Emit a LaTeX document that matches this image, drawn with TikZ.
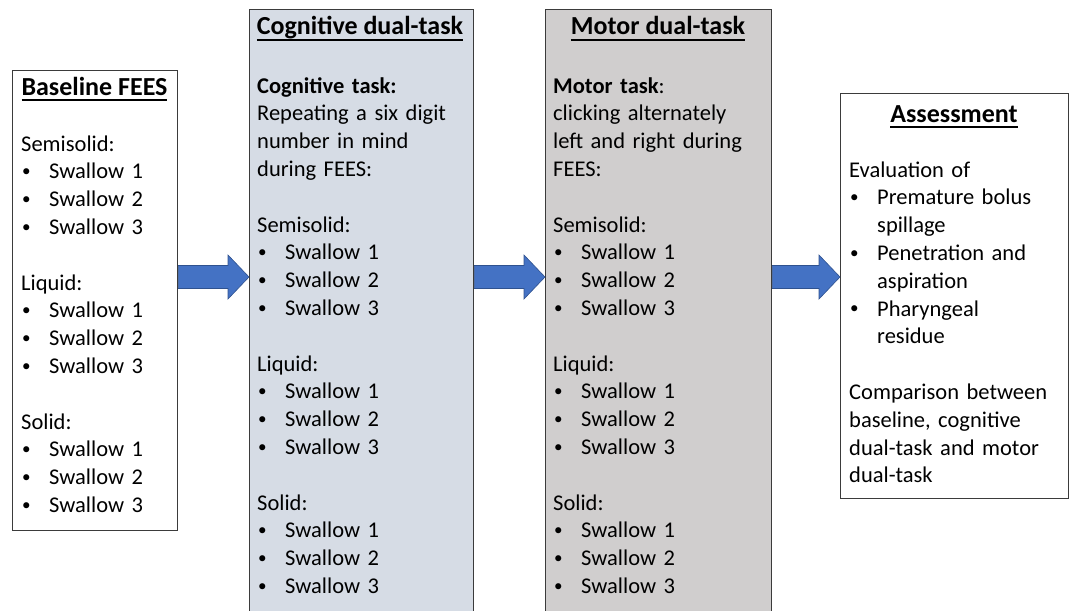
\documentclass[tikz,border=0pt]{standalone}
\usepackage{fontspec}
\setmainfont{Carlito}
\usetikzlibrary{calc}
\definecolor{edge}{HTML}{3B3B3B}
\definecolor{cogfill}{HTML}{D6DCE5}
\definecolor{motfill}{HTML}{D0CECE}
\definecolor{arrowblue}{HTML}{4472C4}
\definecolor{arrowedge}{HTML}{2F528F}
\newcommand\bodyfont{\fontsize{22.5}{27.8}\selectfont}
\newcommand\headfont{\fontsize{26}{30}\selectfont\bfseries}
% underlined heading with a heavy rule
\newcommand\ttl[1]{\setbox0\hbox{#1}\rlap{\rule[-6.2pt]{\wd0}{2.3pt}}\box0}
% bullet entries
\newcommand\smallbullet{\raisebox{0.1em}{\scalebox{0.76}{\textbullet}}}
\newcommand\bul[1]{\makebox[28pt][l]{\hspace{1pt}\smallbullet}#1}
\newcommand\sw[1]{\bul{Swallow #1}}
\newcommand\gap{\\[27.8pt]}
\begin{document}
\begin{tikzpicture}[x=1pt, y=-1pt, font=\bodyfont,
  box/.style={draw=edge, line width=1.4pt, inner sep=0pt, anchor=north west},
  title/.style={anchor=base, inner sep=0pt, font=\headfont},
  body/.style={anchor=north west, inner sep=0pt, text width=215pt, align=left},
  blockarrow/.style={fill=arrowblue, draw=arrowedge, line width=0.6pt,
    to path={let \p1=(\tikztostart), \p2=(\tikztotarget) in
      (\x1,\y1+11.5pt) -- (\x2-21pt,\y1+11.5pt) -- (\x2-21pt,\y1+22pt) --
      (\x2,\y1) -- (\x2-21pt,\y1-22pt) -- (\x2-21pt,\y1-11.5pt) --
      (\x1,\y1-11.5pt) -- cycle}}]
\useasboundingbox (0,0) rectangle (1070,610);

% frames
\node[box, minimum width=165pt, minimum height=460pt] (b1) at (12,70) {};
\node[box, fill=cogfill, minimum width=224pt, minimum height=606pt] (b2) at (249,9) {};
\node[box, fill=motfill, minimum width=226pt, minimum height=606pt] (b3) at (545,9) {};
\node[box, minimum width=228pt, minimum height=405pt] (b4) at (840,93) {};

% headings
\node[title] (t1) at (94.5,95) {\ttl{Baseline FEES}};
\node[title] (t2) at (360,35) {\ttl{Cognitive dual-task}};
\node[title] (t3) at (658,35) {\ttl{Motor dual-task}};
\node[title] (t4) at (954,122) {\ttl{Assessment}};

% contents
\node[body] (c1) at (21,131.5) {\strut Semisolid:\\ \sw1\\ \sw2\\ \sw3\gap
  Liquid:\\ \sw1\\ \sw2\\ \sw3\gap
  Solid:\\ \sw1\\ \sw2\\ \sw3};
\node[body] (c2) at (257,73.5) {\strut\textbf{Cognitive task:}\\
  Repeating a six digit\\ number in mind\\ during FEES:\gap
  Semisolid:\\ \sw1\\ \sw2\\ \sw3\gap
  Liquid:\\ \sw1\\ \sw2\\ \sw3\gap
  Solid:\\ \sw1\\ \sw2\\ \sw3};
\node[body] (c3) at (553,73.5) {\strut\textbf{Motor task}:\\
  clicking alternately\\ left and right during\\ FEES:\gap
  Semisolid:\\ \sw1\\ \sw2\\ \sw3\gap
  Liquid:\\ \sw1\\ \sw2\\ \sw3\gap
  Solid:\\ \sw1\\ \sw2\\ \sw3};
\node[body] (c4) at (849,157.5) {\strut Evaluation of\\
  \bul{Premature bolus}\\ \hspace*{28pt}spillage\\
  \bul{Penetration and}\\ \hspace*{28pt}aspiration\\
  \bul{Pharyngeal}\\ \hspace*{28pt}residue\gap
  Comparison between\\ baseline, cognitive\\ dual-task and motor\\ dual-task};

% flow arrows
\coordinate (row) at (0,277);
\draw[blockarrow] (b1.east |- row) to (b2.west |- row);
\draw[blockarrow] (b2.east |- row) to (b3.west |- row);
\draw[blockarrow] (b3.east |- row) to (b4.west |- row);
\end{tikzpicture}
\end{document}
